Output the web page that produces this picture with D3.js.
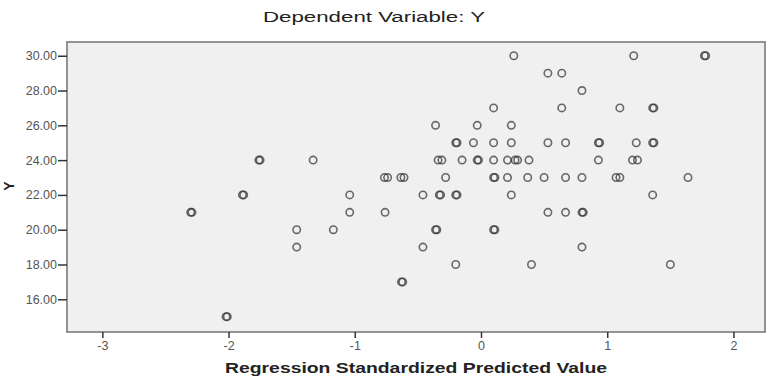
<!DOCTYPE html>
<html>
<head>
<meta charset="utf-8">
<script src="https://cdn.jsdelivr.net/npm/d3@7"></script>
<style>
  body { margin: 0; background: #fff; }
  svg { font-family: "Liberation Sans", Arial, sans-serif; }
</style>
</head>
<body>
<svg id="chart" width="780" height="376"></svg>
<script>
var predicted = [
  0.26, 1.21, 1.77, 1.78,
  0.53, 0.64,
  0.80,
  0.10, 0.64, 1.10, 1.36, 1.37,
  -0.36, -0.03, 0.24,
  -0.20, -0.19, -0.06, 0.10, 0.24, 0.53, 0.67, 0.93, 0.94, 1.23, 1.36, 1.37,
  -1.76, -1.75, -1.33, -0.34, -0.31, -0.15, -0.03, -0.02, 0.10, 0.21, 0.27, 0.29, 0.38, 0.93, 1.20, 1.24,
  -0.765, -0.74, -0.635, -0.61, -0.28, 0.10, 0.11, 0.21, 0.37, 0.50, 0.67, 0.80, 1.07, 1.10, 1.64,
  -1.89, -1.88, -1.04, -0.46, -0.33, -0.32, -0.20, -0.19, 0.24, 1.36,
  -2.30, -2.29, -1.04, -0.76, 0.53, 0.67, 0.80, 0.81,
  -1.46, -1.17, -0.36, -0.35, 0.10, 0.11,
  -1.46, -0.46, 0.80,
  -0.20, 0.40, 1.50,
  -0.63, -0.62,
  -2.02, -2.01
];
var observed = [
  30, 30, 30, 30,
  29, 29,
  28,
  27, 27, 27, 27, 27,
  26, 26, 26,
  25, 25, 25, 25, 25, 25, 25, 25, 25, 25, 25, 25,
  24, 24, 24, 24, 24, 24, 24, 24, 24, 24, 24, 24, 24, 24, 24, 24,
  23, 23, 23, 23, 23, 23, 23, 23, 23, 23, 23, 23, 23, 23, 23,
  22, 22, 22, 22, 22, 22, 22, 22, 22, 22,
  21, 21, 21, 21, 21, 21, 21, 21,
  20, 20, 20, 20, 20, 20,
  19, 19, 19,
  18, 18, 18,
  17, 17,
  15, 15
];
var xTicks = [-3, -2, -1, 0, 1, 2];
var yTicks = [16, 18, 20, 22, 24, 26, 28, 30];

var svg = d3.select('#chart');
var plotLeft = 67, plotRight = 765, plotTop = 42, plotBottom = 332;

var x = d3.scaleLinear().domain([-3.28, 2.25]).range([plotLeft, plotRight]);
var y = d3.scaleLinear().domain([14.12, 30.79]).range([plotBottom, plotTop]);

// the original export is stretched sideways, so texts get a fixed length
svg.append('text')
  .attr('x', 374).attr('y', 22)
  .attr('text-anchor', 'middle')
  .attr('font-size', 15.5)
  .attr('fill', '#222')
  .attr('textLength', 222).attr('lengthAdjust', 'spacingAndGlyphs')
  .text('Dependent Variable: Y');

svg.append('rect')
  .attr('x', plotLeft).attr('y', plotTop)
  .attr('width', plotRight - plotLeft).attr('height', plotBottom - plotTop)
  .attr('fill', '#f0f0f0')
  .attr('stroke', '#888')
  .attr('stroke-width', 1.8);

var xAxis = svg.append('g')
  .attr('transform', 'translate(0,' + plotBottom + ')')
  .call(d3.axisBottom(x).tickValues(xTicks).tickSize(6).tickPadding(3)
    .tickFormat(function(d) { return String(d); }));
var yAxis = svg.append('g')
  .attr('transform', 'translate(' + plotLeft + ',0)')
  .call(d3.axisLeft(y).tickValues(yTicks).tickSize(9).tickPadding(1).tickFormat(d3.format('.2f')));

[xAxis, yAxis].forEach(function(g) {
  g.select('.domain').remove();
  g.selectAll('line').attr('stroke', '#333').attr('stroke-width', 1.5);
  g.selectAll('text').attr('fill', '#555').attr('font-size', 12.5)
    .attr('font-family', '"Liberation Sans", Arial, sans-serif');
});

svg.append('g')
  .selectAll('circle')
  .data(predicted)
  .enter()
  .append('circle')
  .attr('cx', function(d) { return x(d); })
  .attr('cy', function(d, i) { return y(observed[i]); })
  .attr('r', 3.7)
  .attr('fill', 'none')
  .attr('stroke', '#333')
  .attr('stroke-opacity', 0.72)
  .attr('stroke-width', 1.6);

svg.append('text')
  .attr('x', 416).attr('y', 373)
  .attr('text-anchor', 'middle')
  .attr('font-size', 15)
  .attr('font-weight', 'bold')
  .attr('fill', '#222')
  .attr('textLength', 382).attr('lengthAdjust', 'spacingAndGlyphs')
  .text('Regression Standardized Predicted Value');

svg.append('text')
  .attr('transform', 'translate(14,186) rotate(-90)')
  .attr('text-anchor', 'middle')
  .attr('font-size', 14)
  .attr('font-weight', 'bold')
  .attr('fill', '#222')
  .text('Y');
</script>
</body>
</html>
